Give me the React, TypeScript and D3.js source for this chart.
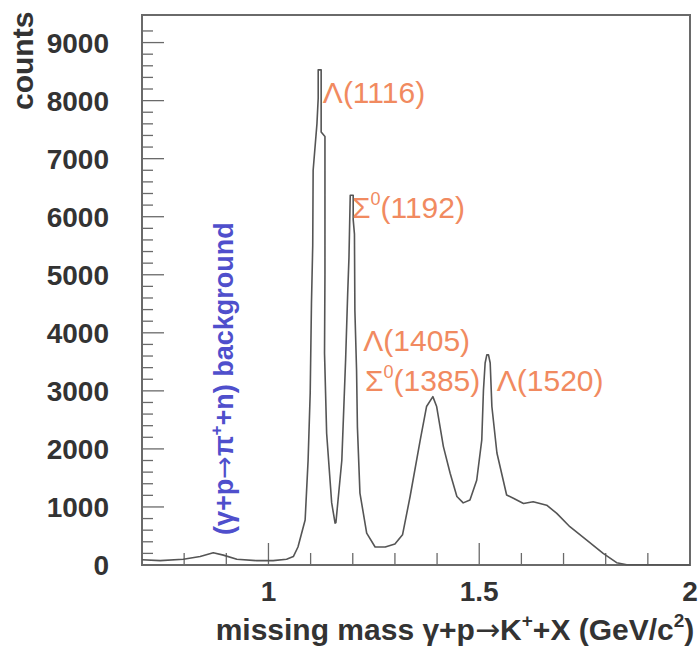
import React from 'react';
import * as d3 from 'd3';

// missing mass spectrum (GeV/c^2, counts)
const massGeV = [
  0.700, 0.743, 0.798, 0.838, 0.869, 0.893, 0.925, 0.972, 1.011, 1.043,
  1.059, 1.070, 1.087, 1.094, 1.099, 1.102, 1.105, 1.106, 1.115, 1.118,
  1.118, 1.125, 1.125, 1.134, 1.134, 1.133, 1.138, 1.150, 1.158, 1.160,
  1.174, 1.183, 1.188, 1.191, 1.194, 1.201, 1.201, 1.204, 1.205, 1.209,
  1.211, 1.217, 1.233, 1.253, 1.277, 1.300, 1.318, 1.336, 1.360, 1.375,
  1.390, 1.399, 1.415, 1.431, 1.447, 1.462, 1.478, 1.494, 1.506, 1.510,
  1.514, 1.518, 1.522, 1.526, 1.530, 1.542, 1.565, 1.581, 1.605, 1.628,
  1.660, 1.684, 1.715, 1.755, 1.794, 1.826, 1.850, 1.900, 2.000
];
const counts = [
  90, 75, 100, 145, 210, 170, 100, 75, 75, 100,
  145, 310, 775, 1800, 2960, 4500, 5500, 6800, 7600, 8040,
  8530, 8530, 7460, 7380, 5000, 3650, 2270, 1070, 720, 730,
  1800, 3530, 4690, 5300, 6370, 6370, 5950, 5700, 4390, 3360,
  2380, 1240, 550, 310, 310, 360, 520, 1180, 2150, 2730,
  2900, 2730, 2040, 1580, 1180, 1070, 1120, 1460, 2150, 3010,
  3480, 3620, 3620, 3480, 2730, 1930, 1206, 1150, 1060, 1090,
  1030, 890, 660, 430, 200, 40, 5, 5, 0
];

const yTickLabels = [0, 1000, 2000, 3000, 4000, 5000, 6000, 7000, 8000, 9000];
const xTickLabels = [1, 1.5, 2];

// resonance labels
const peakNames = ['Λ', 'Σ', 'Λ', 'Σ', 'Λ'];
const peakSups = ['', '0', '', '0', ''];
const peakMasses = ['(1116)', '(1192)', '(1405)', '(1385)', '(1520)'];
const peakAtMass = [1.129, 1.198, 1.225, 1.229, 1.5415];
const peakAtCounts = [7960, 5980, 3690, 3000, 3000];

const font = "'Liberation Sans', Arial, Helvetica, sans-serif";
const arrowFont = "'DejaVu Sans', sans-serif";
const orange = '#f18a60';
const blue = '#4f4fcc';
const axisGrey = '#6a6a6a';

export default function App() {
  const W = 698;
  const H = 656;
  const x = d3.scaleLinear().domain([0.7, 2.0]).range([142, 690]);
  const y = d3.scaleLinear().domain([0, 9475]).range([565, 15]);

  const pts = massGeV.map((m, i) => [m, counts[i]] as [number, number]);
  const line = d3.line<[number, number]>()
    .x(d => x(d[0]))
    .y(d => y(d[1]));

  const xMinor = x.ticks(13).filter(t => t > 0.75 && t < 1.95);
  const yMinor = d3.range(0, 9400, 200);

  return (
    <div style={{ position: 'fixed', left: 0, top: 0, width: W, height: H, background: '#fff' }}>
      <svg width={W} height={H} style={{ display: 'block' }} fontFamily={font}>
        <rect width={W} height={H} fill="#fff" />

        {/* frame */}
        <rect x={142} y={15} width={548} height={550} fill="none" stroke={axisGrey} strokeWidth={2} />

        {/* y ticks */}
        {yMinor.map(v => (
          <line key={'ym' + v} x1={142} x2={v % 1000 === 0 ? 164 : 153} y1={y(v)} y2={y(v)}
            stroke={axisGrey} strokeWidth={1.3} />
        ))}
        {yTickLabels.map(v => (
          <text key={'yl' + v} x={109} y={y(v) + 10} textAnchor="end" fontSize={28}
            fontWeight="bold" fill="#333">{v}</text>
        ))}

        {/* x ticks */}
        {xMinor.map(v => {
          const major = xTickLabels.some(t => Math.abs(t - v) < 1e-6);
          return (
            <line key={'xm' + v} x1={x(v)} x2={x(v)} y1={565} y2={major ? 543 : 553}
              stroke={axisGrey} strokeWidth={1.3} />
          );
        })}
        {xTickLabels.map(v => (
          <text key={'xl' + v} x={x(v)} y={601} textAnchor="middle" fontSize={28}
            fontWeight="bold" fill="#333">{v}</text>
        ))}

        {/* axis titles */}
        <text transform="translate(33,110) rotate(-90)" fontSize={30} fontWeight="bold" fill="#333">counts</text>
        <text x={455} y={640} textAnchor="middle" fontSize={30} fontWeight="bold" fill="#333">
          missing mass γ+p<tspan fontFamily={arrowFont} fontWeight="normal">→</tspan>K
          <tspan fontSize={19} dy={-13}>+</tspan><tspan dy={13}>+X (GeV/c</tspan>
          <tspan fontSize={19} dy={-13}>2</tspan><tspan dy={13}>)</tspan>
        </text>

        {/* spectrum */}
        <path d={line(pts) || ''} fill="none" stroke="#555" strokeWidth={1.6} strokeLinejoin="round" />

        {/* resonance labels */}
        {peakNames.map((n, i) => (
          <text key={'pk' + i} x={x(peakAtMass[i])} y={y(peakAtCounts[i])} fontSize={30} fill={orange}>
            {n}
            {peakSups[i] ? <tspan fontSize={18} dy={-13}>{peakSups[i]}</tspan> : null}
            <tspan dy={peakSups[i] ? 13 : 0}>{peakMasses[i]}</tspan>
          </text>
        ))}

        {/* background label */}
        <text transform="translate(233,535) rotate(-90)" fontSize={27} fontWeight="bold" fill={blue}>
          (γ+p<tspan fontFamily={arrowFont} fontWeight="normal">→</tspan>π
          <tspan fontSize={17} dy={-11}>+</tspan><tspan dy={11}>+n) background</tspan>
        </text>
      </svg>
    </div>
  );
}
